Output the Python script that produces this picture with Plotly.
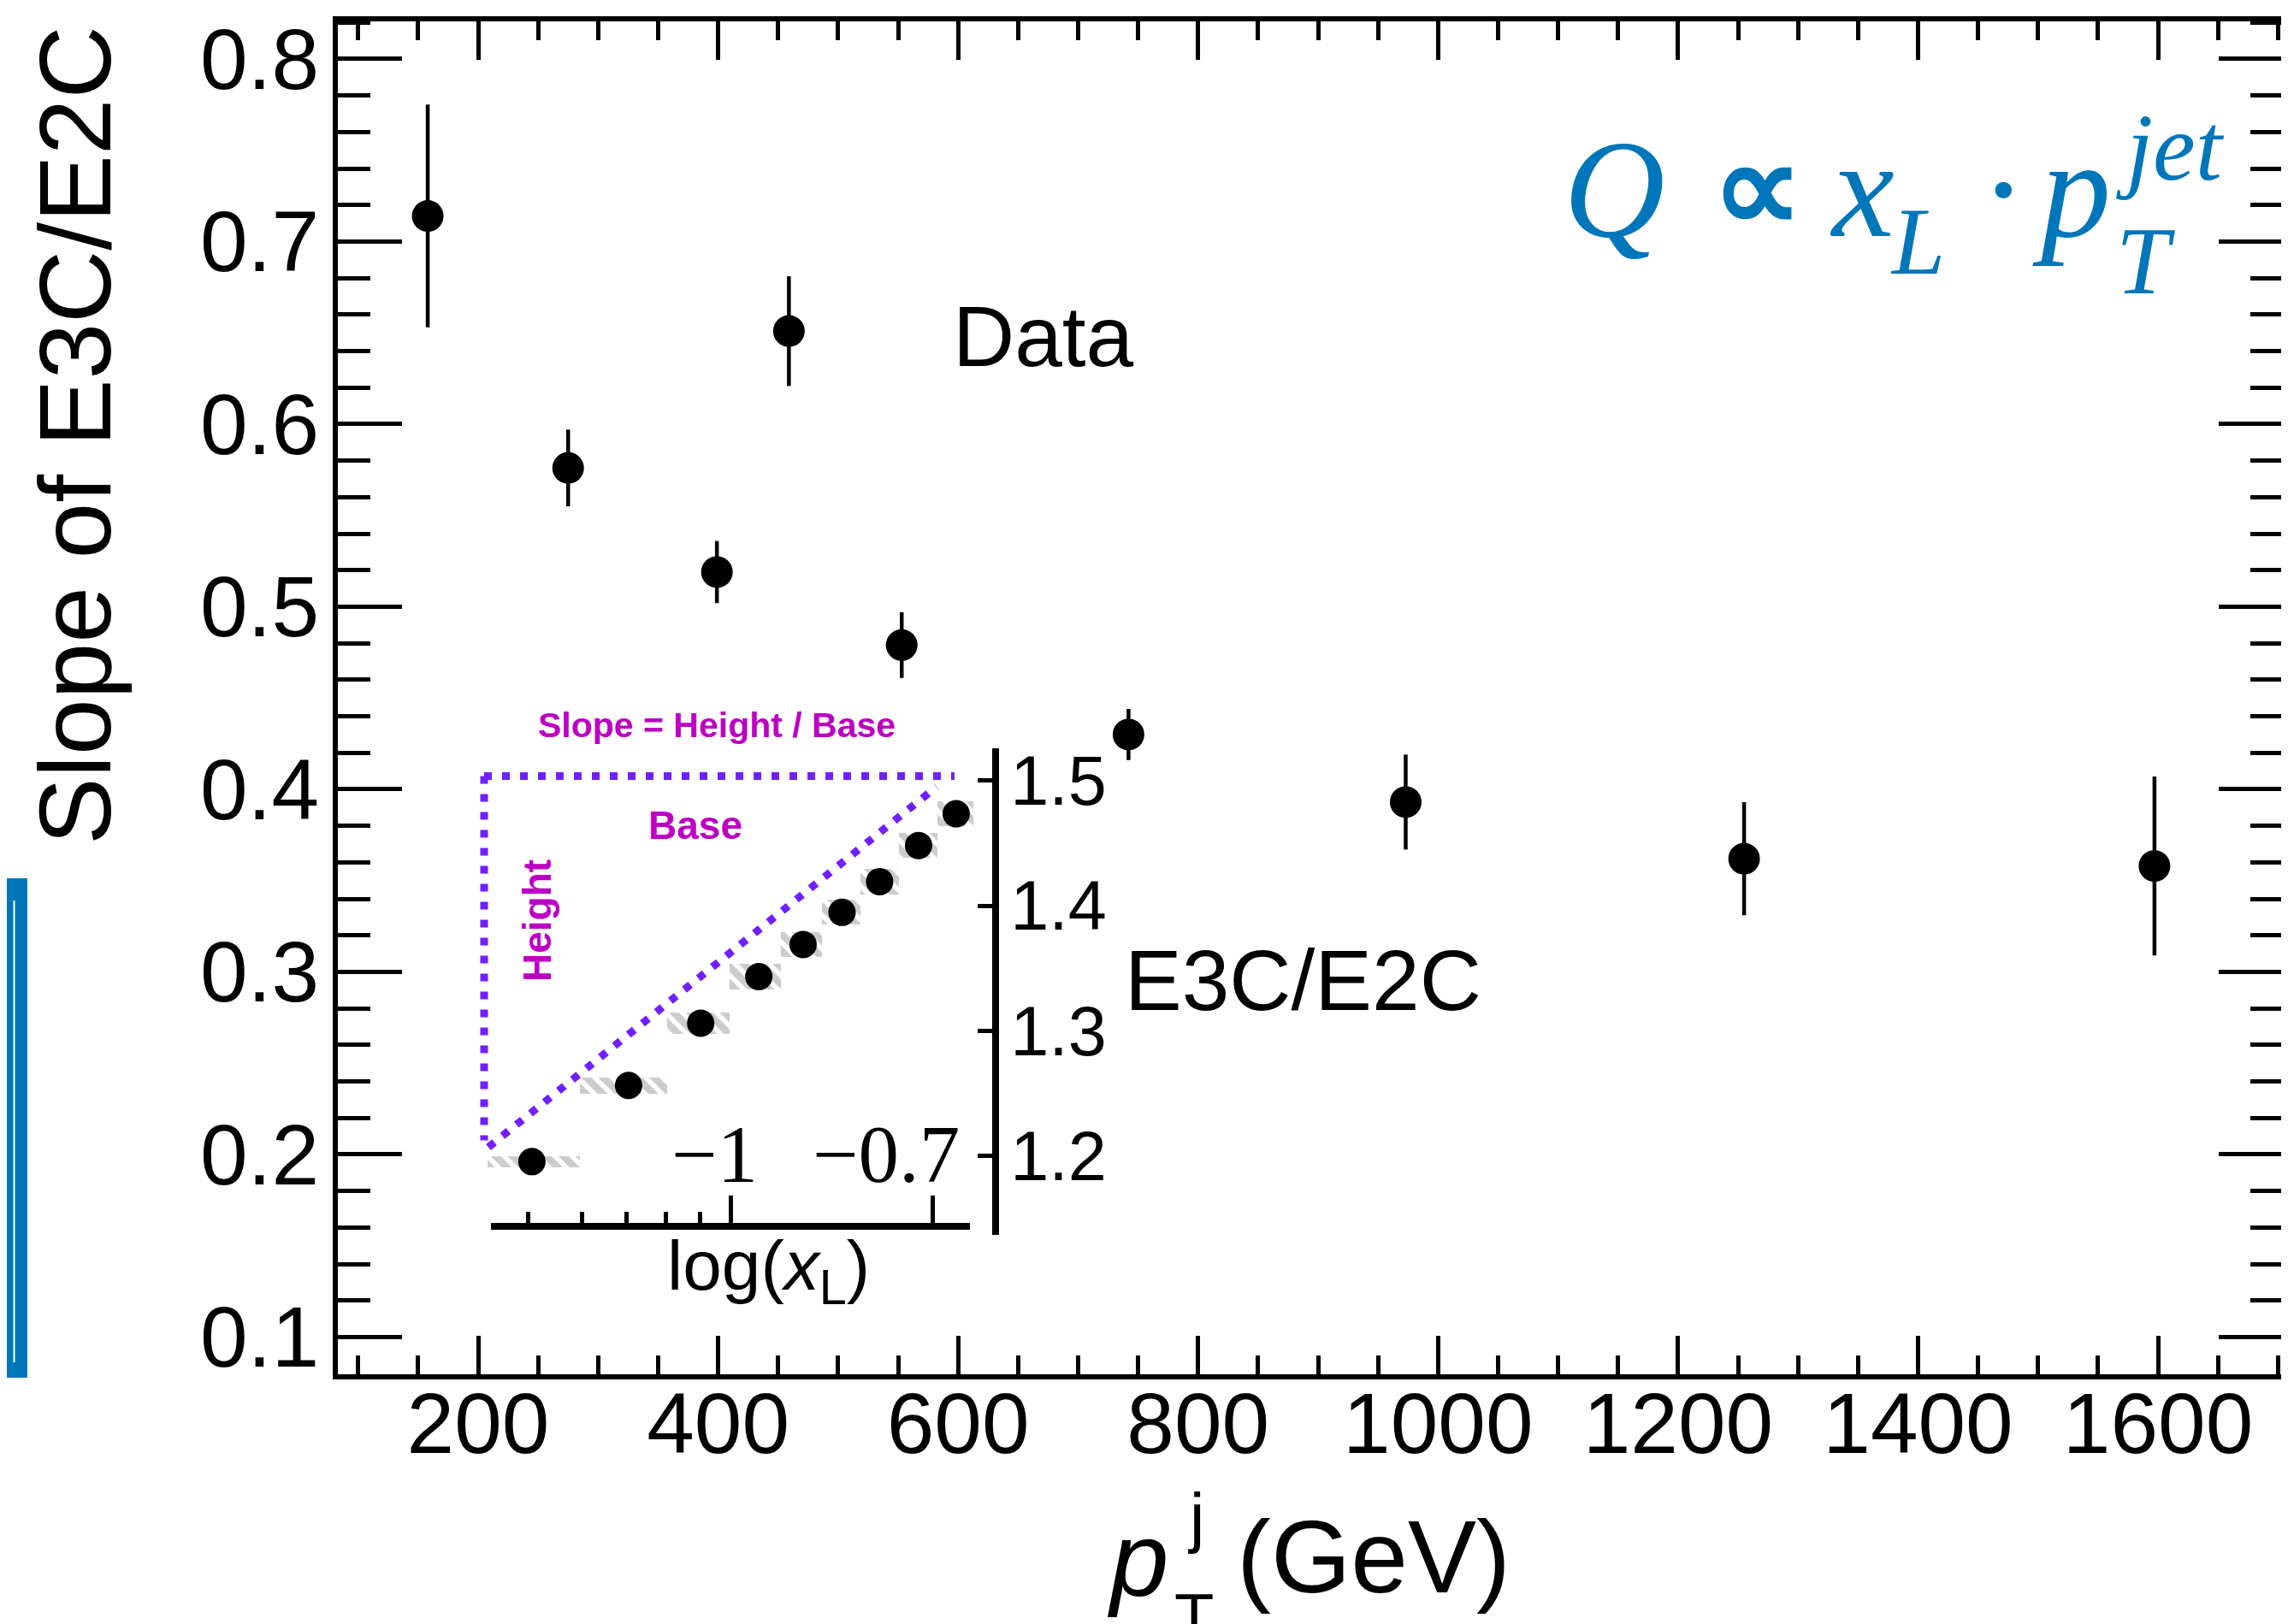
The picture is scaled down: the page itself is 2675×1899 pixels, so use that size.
import plotly.graph_objects as go
import numpy as np

# ---------------- data ----------------
pt_centers = [158, 275, 399, 553, 742, 973, 1255, 1597]          # GeV
slope_vals = [0.714, 0.576, 0.519, 0.479, 0.430, 0.393, 0.362, 0.358]
slope_errs = [0.061, 0.021, 0.017, 0.018, 0.014, 0.026, 0.031, 0.049]

legend_x = [459]
legend_y = [0.651]
legend_err = [0.030]

# inset: E3C/E2C vs log10(x_L)
inset_logx = [-1.296, -1.152, -1.0445, -0.958, -0.892, -0.834, -0.778, -0.720, -0.664]
inset_ratio = [1.1952, 1.2562, 1.306, 1.3433, 1.369, 1.3947, 1.4193, 1.4482, 1.4736]
inset_bin_edges = [-1.362, -1.2245, -1.0946, -1.0015, -0.925, -0.864, -0.807, -0.749, -0.692, -0.639]
inset_sys = [0.0045, 0.0065, 0.0085, 0.010, 0.010, 0.010, 0.010, 0.010, 0.010]

# slope triangle (inset units)
tri_logx = [-1.3608, -0.6932, None, -1.3672, -0.6664, None, -1.3672, -1.3672]
tri_ratio = [1.2068, 1.4952, None, 1.5037, 1.5037, None, 1.5037, 1.2123]

main_xticks = [200, 400, 600, 800, 1000, 1200, 1400, 1600]
main_yticks = [0.1, 0.2, 0.3, 0.4, 0.5, 0.6, 0.7, 0.8]
inset_yticks = [1.2, 1.3, 1.4, 1.5]
inset_xtick_vals = [-1.0, -0.699]
inset_xtick_text = ["\u22121", "\u22120.7"]
inset_xminor = [float(np.log10(v)) for v in [0.05, 0.06, 0.07, 0.08, 0.09]]

# ---------------- geometry helpers (pixel -> paper) ----------------
W, H = 2675, 1899
L, R, T, B = 387, 2661, 17, 1599


def px(X):
    return (X - L) / (R - L)


def py(Y):
    return (B - Y) / (B - T)


SANS = "Liberation Sans, Arial, Helvetica, sans-serif"
SERIF = "Liberation Serif, Times New Roman, serif"
BLUE = "#0076BA"
MAG = "#BC00C4"
VIOLET = "#7020FF"

fig = go.Figure()

# main data
fig.add_trace(go.Scatter(
    x=pt_centers, y=slope_vals, mode="markers",
    marker=dict(size=37, color="black"),
    error_y=dict(type="data", array=slope_errs, thickness=4.5, width=0, color="black"),
    showlegend=False, xaxis="x", yaxis="y"))

# legend marker
fig.add_trace(go.Scatter(
    x=legend_x, y=legend_y, mode="markers",
    marker=dict(size=37, color="black"),
    error_y=dict(type="data", array=legend_err, thickness=4.5, width=0, color="black"),
    showlegend=False, xaxis="x", yaxis="y"))

# inset systematic hatched boxes
widths = [inset_bin_edges[i + 1] - inset_bin_edges[i] for i in range(len(inset_logx))]
centers = [(inset_bin_edges[i + 1] + inset_bin_edges[i]) / 2 for i in range(len(inset_logx))]
fig.add_trace(go.Bar(
    x=centers, width=widths,
    base=[r - s for r, s in zip(inset_ratio, inset_sys)],
    y=[2 * s for s in inset_sys],
    marker=dict(color="rgba(0,0,0,0)", line=dict(width=0),
                pattern=dict(shape="\\", fgcolor="#9a9a9a", bgcolor="rgba(0,0,0,0)",
                             size=14, solidity=0.6)),
    showlegend=False, xaxis="x2", yaxis="y2"))

# slope triangle
fig.add_trace(go.Scatter(
    x=tri_logx, y=tri_ratio, mode="lines",
    line=dict(color=VIOLET, width=9, dash="9px,12px"),
    showlegend=False, xaxis="x2", yaxis="y2"))

# inset points
fig.add_trace(go.Scatter(
    x=inset_logx, y=inset_ratio, mode="markers",
    marker=dict(size=32, color="black"),
    showlegend=False, xaxis="x2", yaxis="y2"))

tickfont = dict(family=SANS, size=100, color="black")

fig.update_layout(
    width=W, height=H,
    margin=dict(l=L, r=W - R, t=T, b=H - B, pad=0, autoexpand=False),
    paper_bgcolor="white", plot_bgcolor="rgba(0,0,0,0)",
    showlegend=False,
    bargap=0,
    xaxis=dict(
        automargin=False,
        range=[83.1, 1704], tickvals=main_xticks, ticks="inside", ticklen=45, tickwidth=4.5,
        tickcolor="black", showline=True, linewidth=6, linecolor="black", mirror="ticks",
        showgrid=False, zeroline=False, tickfont=tickfont, ticklabelstandoff=-34,
        minor=dict(dtick=50, tick0=0, ticks="inside", ticklen=22, tickwidth=4.5, tickcolor="black",
                   showgrid=False),
    ),
    yaxis=dict(
        automargin=False,
        range=[0.0796, 0.8206], tickvals=main_yticks, tickformat=".1f", ticks="inside", ticklen=75,
        tickwidth=4.5, tickcolor="black", showline=True, linewidth=6, linecolor="black",
        mirror="ticks", showgrid=False, zeroline=False, tickfont=tickfont, ticklabelstandoff=-4,
        minor=dict(dtick=0.02, tick0=0, ticks="inside", ticklen=38, tickwidth=4.5, tickcolor="black",
                   showgrid=False),
    ),
    xaxis2=dict(
        automargin=False,
        domain=[px(550), px(1135)],
        range=[-1.3774, -0.632], anchor="free", position=py(1426),
        showline=False, showgrid=False, zeroline=False,
        tickvals=inset_xtick_vals, ticks="inside", ticklen=36, tickwidth=4.5, tickcolor="black",
        showticklabels=False,
        minor=dict(tickvals=inset_xminor, ticks="inside", ticklen=17, tickwidth=4.5,
                   tickcolor="black", showgrid=False),
    ),
    yaxis2=dict(
        automargin=False,
        domain=[py(1436), py(867)],
        range=[1.1366, 1.526], anchor="free", position=px(1156), side="right",
        showline=True, linewidth=8, linecolor="black", showgrid=False, zeroline=False,
        tickvals=inset_yticks, tickformat=".1f", ticks="inside", ticklen=17, tickwidth=4.5,
        tickcolor="black", tickfont=dict(family=SANS, size=81, color="black"),
        ticklabelstandoff=-3,
    ),
)

shapes = []
# inset x axis line
shapes.append(dict(type="line", xref="paper", yref="paper", x0=px(566), x1=px(1126),
                   y0=py(1426), y1=py(1426), line=dict(color="black", width=8)))
# blue hand-drawn box on the left edge
shapes.append(dict(type="rect", xref="paper", yref="paper", x0=px(0), x1=px(23),
                   y0=py(1602), y1=py(1020), line=dict(color=BLUE, width=2), fillcolor=BLUE))
shapes.append(dict(type="line", xref="paper", yref="paper", x0=px(8.5), x1=px(8.5),
                   y0=py(1585), y1=py(1045), line=dict(color="white", width=2)))
fig.update_layout(shapes=shapes)

ann = []


def add_text(text, X, Y, size, family=SANS, color="black", xanchor="center", yanchor="middle",
             angle=0):
    ann.append(dict(text=text, x=px(X), y=py(Y), xref="paper", yref="paper",
                    xanchor=xanchor, yanchor=yanchor, showarrow=False, textangle=angle,
                    font=dict(family=family, size=size, color=color)))


# axis titles
add_text("Slope of E3C/E2C", 80, 20, 118, angle=-90, yanchor="top")
add_text("<i>p</i>", 1284, 1815, 123, xanchor="left")
add_text("j", 1390, 1766, 78)
add_text("T", 1388, 1882, 76)
add_text("(GeV)", 1436, 1812, 120, xanchor="left")

# legend text
add_text("Data", 1104, 385, 100, xanchor="left")

# inset labels
add_text("E3C/E2C", 1305, 1138, 100, xanchor="left")
add_text("log(<i>x</i><sub>L</sub>)", 890, 1477, 82)
for v, t in zip(inset_xtick_vals, inset_xtick_text):
    Xpix = 846.2 + (v + 1.0) * 784.8
    add_text(t, Xpix + 34, 1342, 95, family=SERIF, xanchor="right")

add_text("<b>Slope = Height / Base</b>", 830, 840, 41, color=MAG)
add_text("<b>Base</b>", 805, 957, 46, color=MAG)
add_text("<b>Height</b>", 620, 1069, 46, color=MAG, angle=-90)

# formula  Q ∝ x_L · p_T^jet
add_text("<i>Q</i>", 1818, 212, 164, family=SERIF, color=BLUE, xanchor="left")
add_text("<b>\u221d</b>", 2046, 212, 150, family=SERIF, color=BLUE)
add_text("<i>x</i>", 2130, 212, 164, family=SERIF, color=BLUE, xanchor="left")
add_text("<i>L</i>", 2200, 274, 112, family=SERIF, color=BLUE, xanchor="left")
add_text("\u00b7", 2334, 212, 164, family=SERIF, color=BLUE)
add_text("<i>p</i>", 2366, 212, 164, family=SERIF, color=BLUE, xanchor="left")
add_text("<i>jet</i>", 2464, 164, 112, family=SERIF, color=BLUE, xanchor="left")
add_text("<i>T</i>", 2464, 297, 112, family=SERIF, color=BLUE, xanchor="left")

fig.update_layout(annotations=ann)

fig.write_html("out.html")
